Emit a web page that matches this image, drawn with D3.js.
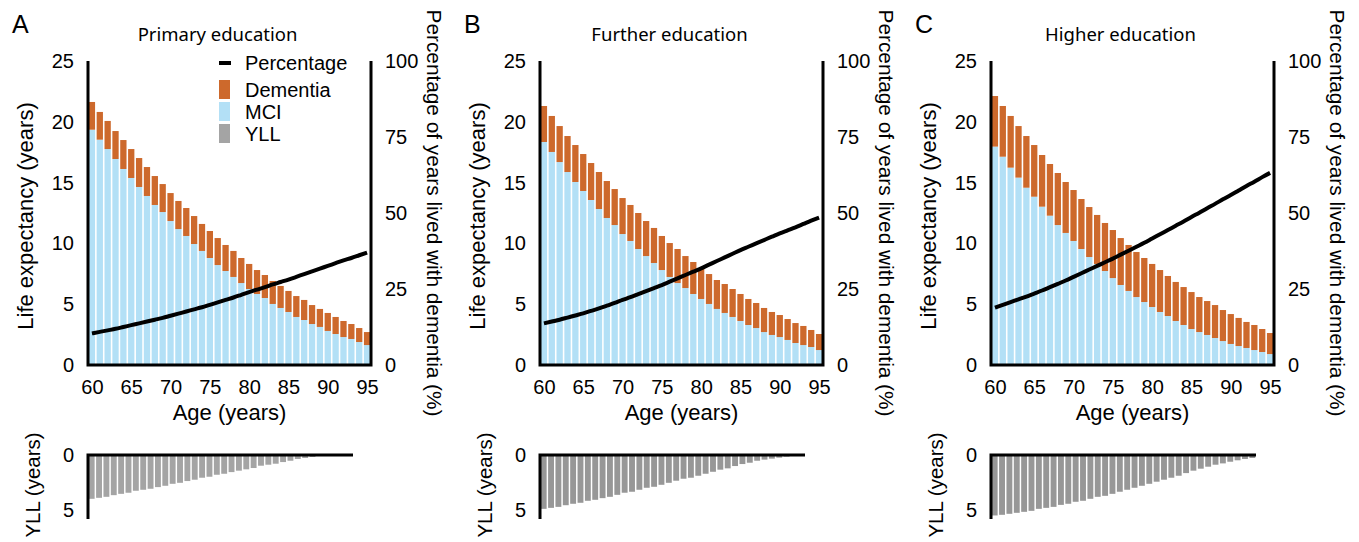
<!DOCTYPE html>
<html>
<head>
<meta charset="utf-8">
<script src="https://cdn.jsdelivr.net/npm/d3@7"></script>
<style>
  body { margin: 0; background: #fff; }
  svg { display: block; font-family: "Liberation Sans", Arial, sans-serif; }
</style>
</head>
<body>
<svg id="chart" width="1359" height="542"></svg>
<script>
const ages = d3.range(60, 96);

// total life expectancy (top of orange) and MCI part (top of blue), years
const totalA = [21.63,20.81,20.07,19.24,18.50,17.76,17.02,16.28,15.54,14.88,14.14,13.49,12.91,12.25,11.60,11.02,10.44,9.87,9.38,8.80,8.31,7.81,7.40,6.91,6.50,6.09,5.67,5.35,4.93,4.61,4.28,3.95,3.62,3.37,3.04,2.71];
const mciA   = [19.35,18.53,17.76,16.94,16.12,15.38,14.64,13.90,13.16,12.58,11.84,11.18,10.61,9.95,9.38,8.80,8.22,7.73,7.24,6.74,6.25,5.84,5.51,5.02,4.69,4.36,3.95,3.70,3.37,3.13,2.80,2.55,2.30,2.14,1.89,1.64];
const pctA   = [10.4,10.9,11.4,11.9,12.5,13.1,13.7,14.3,14.9,15.5,16.2,16.9,17.6,18.3,19.0,19.8,20.6,21.4,22.2,23.1,24.0,24.8,25.6,26.5,27.3,28.1,29.0,29.9,30.8,31.7,32.6,33.5,34.4,35.2,36.1,37.0];
const yllA   = [3.97,3.88,3.79,3.64,3.52,3.42,3.24,3.15,3.06,2.91,2.79,2.61,2.52,2.36,2.24,2.06,1.97,1.79,1.70,1.55,1.42,1.30,1.18,0.97,0.88,0.79,0.64,0.52,0.36,0.27,0.18,0.05,0,0,0,0];

const totalB = [21.30,20.48,19.65,18.83,18.09,17.35,16.61,15.87,15.13,14.47,13.73,13.16,12.50,11.84,11.27,10.61,10.03,9.54,8.96,8.47,7.98,7.48,6.99,6.66,6.25,5.84,5.43,5.10,4.69,4.36,4.11,3.78,3.45,3.21,2.88,2.55];
const mciB   = [18.34,17.52,16.69,15.87,15.05,14.31,13.57,12.83,12.09,11.51,10.77,10.20,9.54,8.96,8.39,7.81,7.24,6.74,6.33,5.84,5.43,5.02,4.61,4.28,3.95,3.62,3.29,3.04,2.71,2.47,2.30,2.06,1.81,1.64,1.48,1.23];
const pctB   = [13.7,14.3,14.9,15.6,16.3,17.0,17.8,18.6,19.5,20.4,21.4,22.3,23.3,24.3,25.3,26.3,27.4,28.5,29.6,30.7,31.8,33.0,34.2,35.4,36.6,37.8,38.9,40.0,41.1,42.2,43.3,44.3,45.3,46.4,47.5,48.5];
const yllB   = [4.88,4.79,4.70,4.55,4.42,4.33,4.15,4.06,3.91,3.79,3.61,3.42,3.33,3.15,2.97,2.88,2.70,2.52,2.33,2.15,2.06,1.88,1.70,1.52,1.33,1.21,1.00,0.82,0.70,0.52,0.42,0.33,0.24,0.15,0.08,0];

const totalC = [22.12,21.30,20.48,19.65,18.83,18.09,17.27,16.53,15.79,15.05,14.39,13.65,12.99,12.34,11.68,11.10,10.44,9.87,9.29,8.80,8.31,7.81,7.32,6.83,6.41,6.00,5.59,5.26,4.93,4.52,4.19,3.87,3.54,3.29,2.96,2.63];
const mciC   = [17.96,17.13,16.23,15.41,14.58,13.84,13.02,12.28,11.51,10.86,10.20,9.54,8.88,8.31,7.73,7.15,6.58,6.09,5.59,5.18,4.77,4.36,4.03,3.62,3.29,2.96,2.71,2.47,2.22,1.97,1.73,1.56,1.40,1.23,1.07,0.90];
const pctC   = [18.9,19.8,20.7,21.6,22.5,23.5,24.5,25.6,26.7,27.8,29.0,30.2,31.4,32.6,33.8,35.0,36.3,37.6,38.9,40.2,41.6,43.0,44.4,45.8,47.2,48.7,50.1,51.6,53.0,54.5,55.9,57.4,58.9,60.3,61.8,63.2];
const yllC   = [5.48,5.42,5.33,5.24,5.15,5.06,4.88,4.79,4.70,4.52,4.42,4.24,4.15,3.97,3.79,3.70,3.52,3.33,3.15,2.97,2.79,2.61,2.42,2.24,2.06,1.88,1.64,1.42,1.24,1.06,0.88,0.76,0.61,0.48,0.36,0.27];

const letters = ["A", "B", "C"];
const titles = ["Primary education", "Further education", "Higher education"];
const ageTicks = [60, 65, 70, 75, 80, 85, 90, 95];
const leTicks = [0, 5, 10, 15, 20, 25];
const pctTicks = [0, 25, 50, 75, 100];
const yllTicks = [0, 5];
const legendItems = ["Percentage", "Dementia", "MCI", "YLL"];

const ORANGE = "#cd692c", BLUE = "#b3e0f6";
const yllGrey = ["#a4a4a4", "#979797", "#979797"];

const panels = [
  {left: 88,  total: totalA, mci: mciA, pct: pctA, yll: yllA},
  {left: 540, total: totalB, mci: mciB, pct: pctB, yll: yllB},
  {left: 991, total: totalC, mci: mciC, pct: pctC, yll: yllC}
];

const W = 283, TOP = 61, BOT = 365;
const YLL_W = 265, YLL_TOP = 455, YLL_BOT = 519;
const TITLE_SIZE = 22;

const svg = d3.select("#chart");

function styleAxis(a) {
  a.select(".domain").remove();
  a.selectAll("text").attr("font-size", 20).attr("fill", "#000")
    .attr("font-family", "Liberation Sans, Arial, sans-serif");
}

panels.forEach((p, i) => {
  const g = svg.append("g").attr("transform", `translate(${p.left},0)`);

  const x = d3.scaleBand().domain(ages).range([0, W]).paddingInner(0.2).paddingOuter(0.1);
  const y = d3.scaleLinear().domain([0, 25]).range([BOT, TOP]);
  const yr = d3.scaleLinear().domain([0, 100]).range([BOT, TOP]);

  // MCI (bottom) and dementia (top) stacks
  g.selectAll(".mci").data(ages).enter().append("rect")
    .attr("x", d => x(d)).attr("width", x.bandwidth())
    .attr("y", (d, k) => y(p.mci[k]))
    .attr("height", (d, k) => y(0) - y(p.mci[k]))
    .attr("fill", BLUE);
  g.selectAll(".dem").data(ages).enter().append("rect")
    .attr("x", d => x(d)).attr("width", x.bandwidth())
    .attr("y", (d, k) => y(p.total[k]))
    .attr("height", (d, k) => y(p.mci[k]) - y(p.total[k]))
    .attr("fill", ORANGE);

  // percentage line
  const line = d3.line()
    .x((d, k) => x(ages[k]) + x.bandwidth() / 2)
    .y(d => yr(d))
    .curve(d3.curveMonotoneX);
  g.append("path").datum(p.pct).attr("d", line)
    .attr("fill", "none").attr("stroke", "#000").attr("stroke-width", 4);

  // axes
  const axL = g.append("g").call(d3.axisLeft(y).tickValues(leTicks).tickSize(0).tickPadding(14));
  const axR = g.append("g").attr("transform", `translate(${W},0)`)
    .call(d3.axisRight(yr).tickValues(pctTicks).tickSize(0).tickPadding(14));
  const xAxisScale = d3.scalePoint().domain(ages).range([x(60) + x.bandwidth() / 2, x(95) + x.bandwidth() / 2]);
  const axB = g.append("g").attr("transform", `translate(0,${BOT})`)
    .call(d3.axisBottom(xAxisScale).tickValues(ageTicks).tickSize(0).tickPadding(15));
  [axL, axR, axB].forEach(styleAxis);
  g.append("path").attr("d", `M0,${TOP}V${BOT}H${W}V${TOP}`)
    .attr("fill", "none").attr("stroke", "#000").attr("stroke-width", 3);

  // titles and labels
  svg.append("text").attr("x", p.left - 76).attr("y", 33).attr("font-size", 25).text(letters[i]);
  g.append("text").attr("x", W / 2 - 12).attr("y", 41).attr("text-anchor", "middle")
    .attr("font-family", "Noto Sans, Open Sans, sans-serif").attr("font-size", 18.5)
    .text(titles[i]);
  g.append("text").attr("x", W / 2).attr("y", 420).attr("text-anchor", "middle")
    .attr("font-size", TITLE_SIZE).text("Age (years)");
  g.append("text").attr("transform", `translate(-55,${(TOP + BOT) / 2 + 3}) rotate(-90)`)
    .attr("text-anchor", "middle").attr("font-size", TITLE_SIZE).text("Life expectancy (years)");
  g.append("text").attr("transform", `translate(${W + 63},213) rotate(90)`)
    .attr("text-anchor", "middle").attr("dy", "0.35em").attr("font-size", 20.8)
    .text("Percentage of years lived with dementia (%)");

  // YLL panel
  const xy = d3.scaleBand().domain(ages).range([0, YLL_W]).paddingInner(0.2).paddingOuter(0.1);
  const yy = d3.scaleLinear().domain([0, 5.8]).range([YLL_TOP, YLL_BOT]);
  g.selectAll(".yll").data(ages).enter().append("rect")
    .attr("x", d => xy(d)).attr("width", xy.bandwidth())
    .attr("y", yy(0))
    .attr("height", (d, k) => yy(p.yll[k]) - yy(0))
    .attr("fill", yllGrey[i]);
  const axY = g.append("g")
    .call(d3.axisLeft(yy).tickValues(yllTicks).tickFormat(d3.format("d")).tickSize(0).tickPadding(14));
  styleAxis(axY);
  g.append("path").attr("d", `M0,${YLL_BOT}V${YLL_TOP}H${YLL_W}`)
    .attr("fill", "none").attr("stroke", "#000").attr("stroke-width", 3);
  g.append("text").attr("transform", `translate(-55,485) rotate(-90)`)
    .attr("text-anchor", "middle").attr("dy", "0.35em").attr("font-size", 20.5).text("YLL (years)");
});

// legend (panel A)
const lg = svg.append("g").attr("transform", "translate(219,0)");
const legendFill = [null, ORANGE, BLUE, yllGrey[0]];
const legendY = [63, 89.5, 111.5, 133.5];
legendItems.forEach((name, k) => {
  if (k === 0) {
    lg.append("rect").attr("x", 0).attr("y", legendY[k] - 2).attr("width", 12).attr("height", 4).attr("fill", "#000");
  } else {
    lg.append("rect").attr("x", 0).attr("y", legendY[k] - 9.5).attr("width", 11).attr("height", 19).attr("fill", legendFill[k]);
  }
  lg.append("text").attr("x", 26).attr("y", legendY[k]).attr("dy", "0.35em")
    .attr("font-size", 20).text(name);
});
</script>
</body>
</html>
